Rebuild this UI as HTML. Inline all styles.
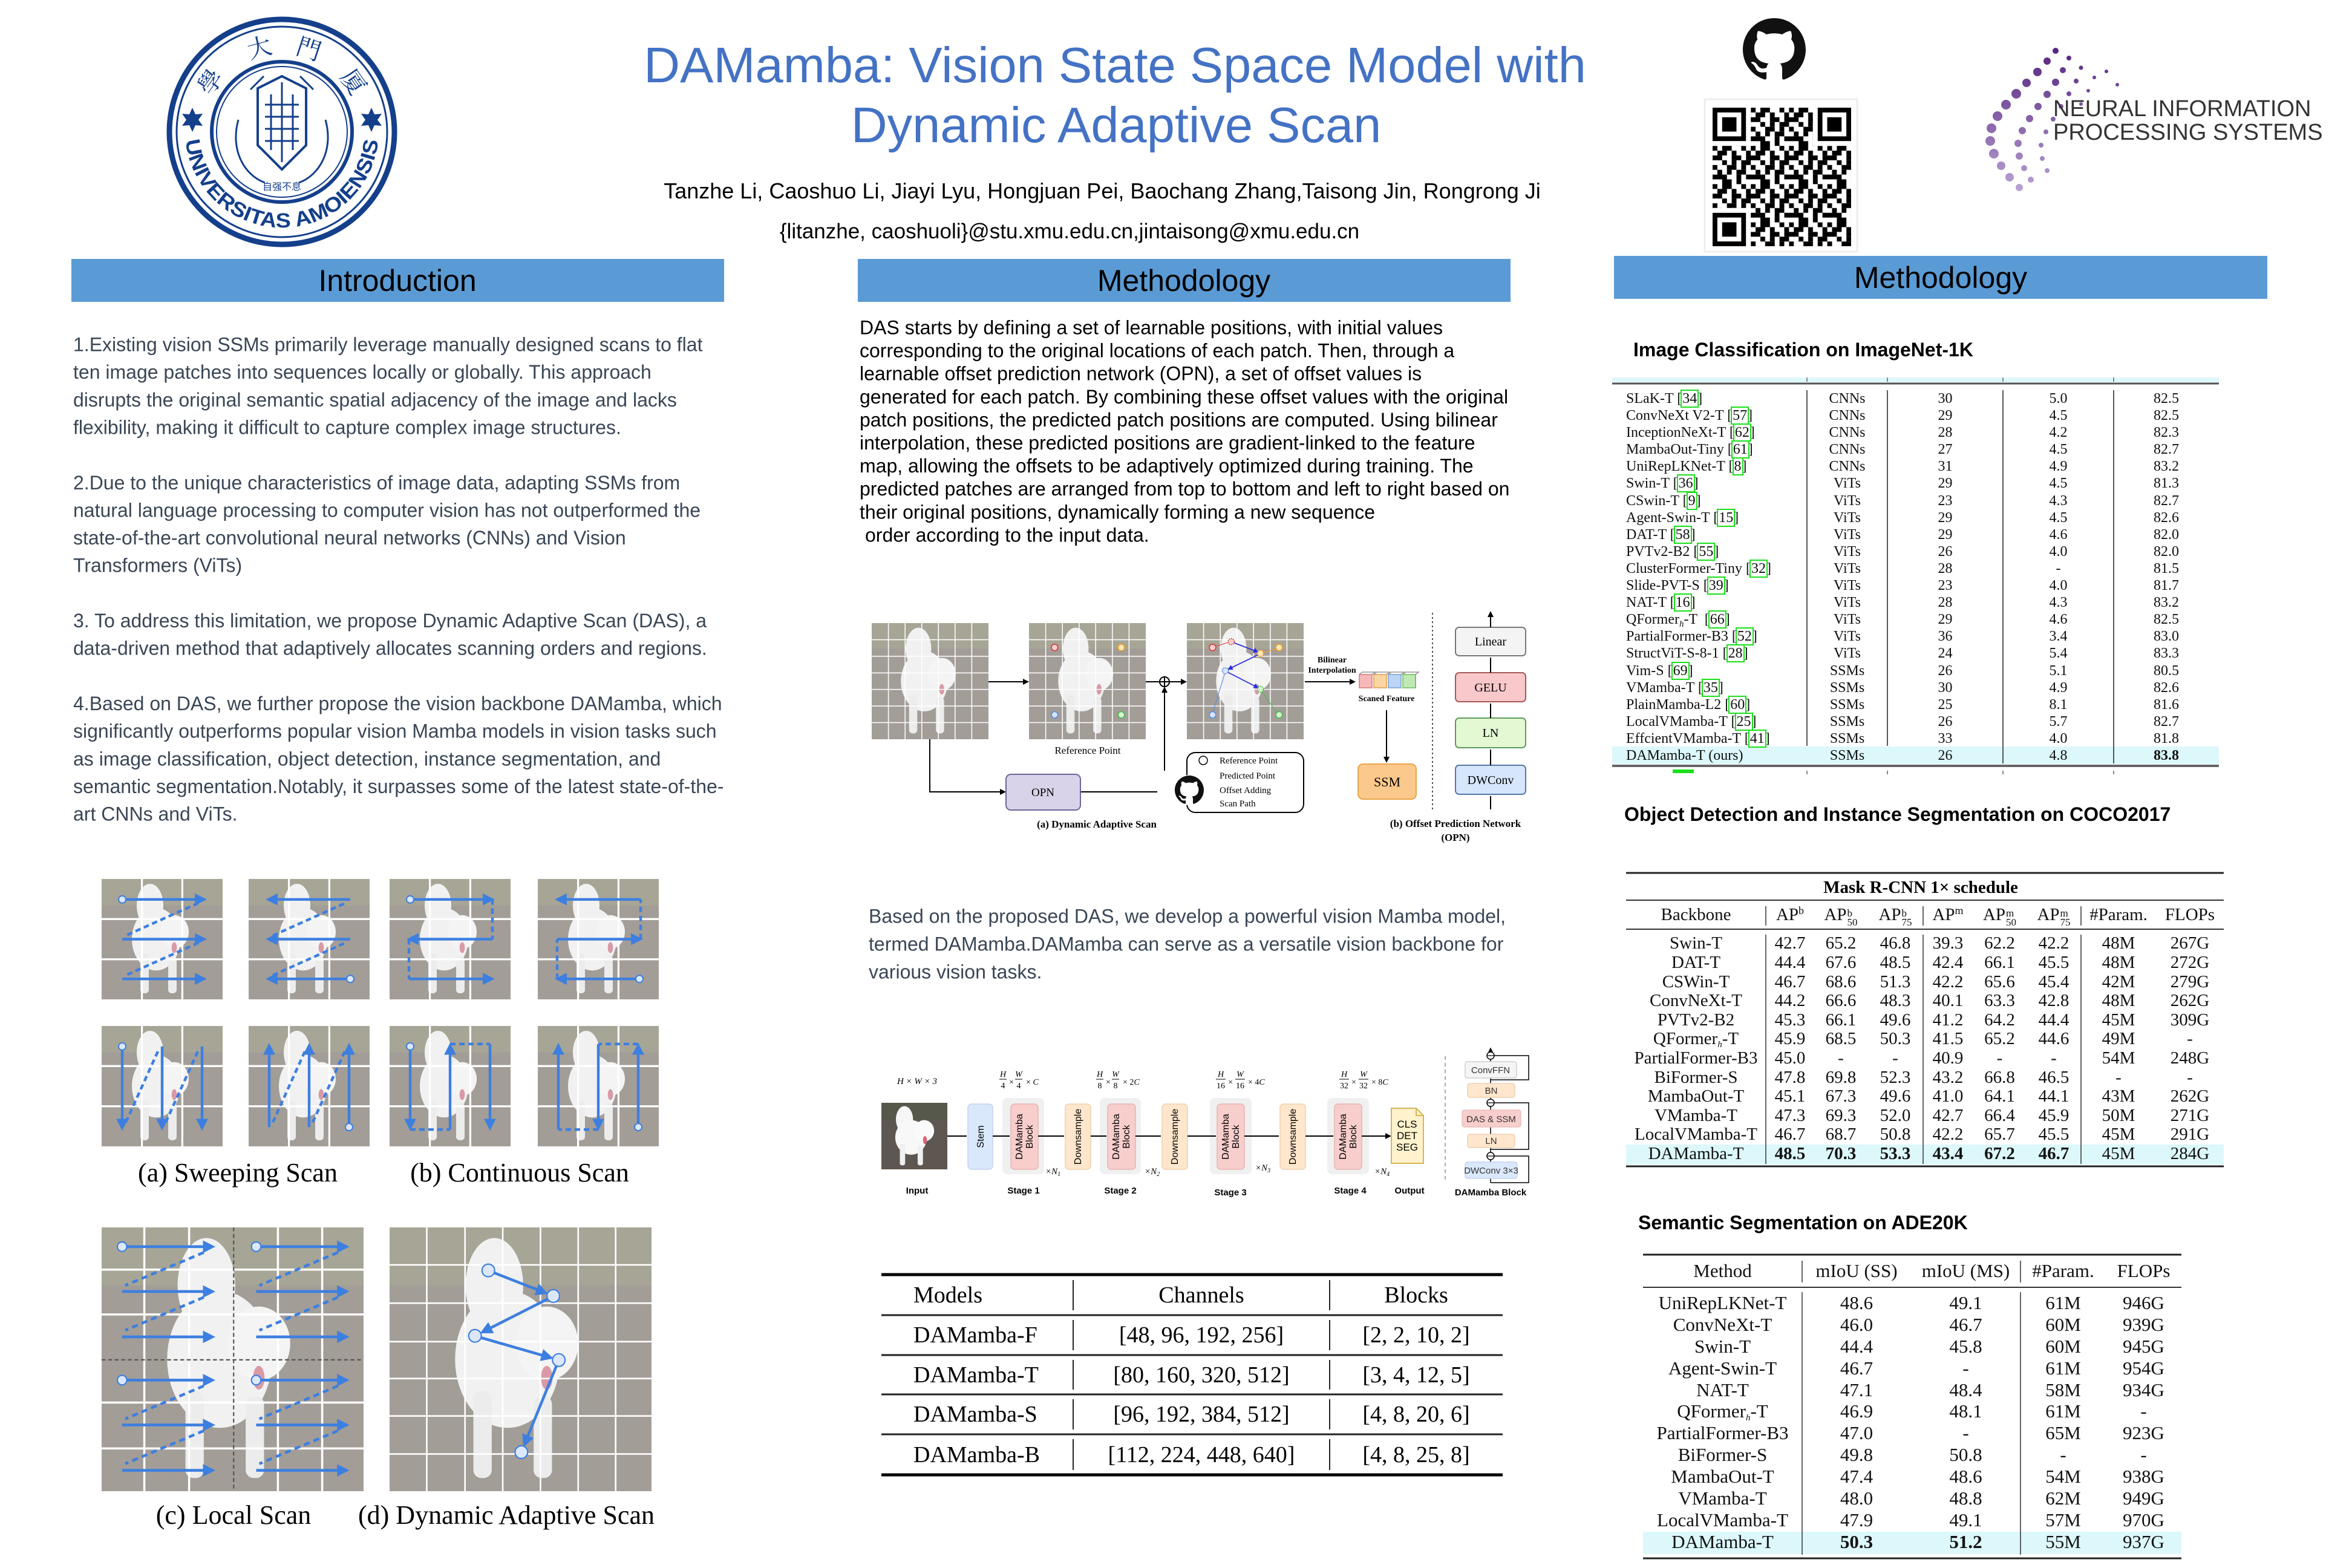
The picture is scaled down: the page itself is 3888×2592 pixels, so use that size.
<!DOCTYPE html>
<html><head><meta charset="utf-8"><title>DAMamba poster</title>
<style>
html,body{margin:0;padding:0;background:#fff}
body{width:3888px;height:2592px;position:relative;overflow:hidden}
.tb{position:absolute;font-family:"Liberation Serif","Times New Roman",serif;color:#111}
.r{display:flex;white-space:nowrap}
.r>div{flex:none;text-align:center}
.g{outline:2px solid #19e019;outline-offset:0px;padding:0 1px}
.sp{font-size:18px;vertical-align:10px;line-height:0}
.ss{display:inline-block;font-size:17px;line-height:15px;vertical-align:-9px;text-align:left;margin-left:1px}
.hs{font-style:italic;font-size:15px;vertical-align:-5px;line-height:0}
</style></head><body>
<svg width="3888" height="2592" viewBox="0 0 3888 2592" style="position:absolute;left:0;top:0" font-family="'Liberation Sans',Arial,sans-serif">
<defs>
<style>
.ar{fill:none;stroke:#3d7fe0;stroke-width:2.2;marker-end:url(#ah)}
.ds{fill:none;stroke:#3d7fe0;stroke-width:2.2;stroke-dasharray:4.5 3}
.st{fill:#dce8fa;stroke:#3d7fe0;stroke-width:1}
.ar2{fill:none;stroke:#3d7fe0;stroke-width:1.05;marker-end:url(#ah)}
.ds2{fill:none;stroke:#3d7fe0;stroke-width:1.05;stroke-dasharray:2.3 1.6}
.st2{fill:#dce8fa;stroke:#3d7fe0;stroke-width:0.5}
.sf{font-family:"Liberation Serif","Times New Roman",serif}
.k{stroke:#000;stroke-width:2;fill:none}
.ka{stroke:#000;stroke-width:2;fill:none;marker-end:url(#ak)}
.gw{stroke:#fff;fill:none}
</style>
<marker id="ah" viewBox="0 0 10 10" refX="7" refY="5" markerWidth="4.5" markerHeight="4.5" orient="auto"><path d="M0,0L10,5L0,10z" fill="#3d7fe0"/></marker>
<marker id="ak" viewBox="0 0 10 10" refX="8" refY="5" markerWidth="5" markerHeight="5" orient="auto"><path d="M0,0L10,5L0,10z" fill="#000"/></marker>
<marker id="ab" viewBox="0 0 10 10" refX="8" refY="5" markerWidth="5" markerHeight="5" orient="auto"><path d="M0,0L10,5L0,10z" fill="#2b2be0"/></marker>
<symbol id="dog" viewBox="0 0 100 100" preserveAspectRatio="none">
<rect width="100" height="100" fill="#a39d98"/>
<rect width="100" height="22" fill="#a7a596"/>
<ellipse cx="40" cy="22" rx="11" ry="18" fill="#f1f1f1"/>
<ellipse cx="45" cy="50" rx="20" ry="26" fill="#f1f1f1"/>
<ellipse cx="60" cy="44" rx="12" ry="14" fill="#f4f4f4"/>
<rect x="32" y="62" width="7" height="33" rx="3" fill="#ececec"/>
<rect x="55" y="64" width="7" height="31" rx="3" fill="#ececec"/>
<ellipse cx="60" cy="57" rx="2.2" ry="4.5" fill="#d99aa6"/>
</symbol>
<symbol id="dog2" viewBox="0 0 100 100" preserveAspectRatio="none">
<rect width="100" height="100" fill="#5e5650"/>
<rect width="100" height="25" fill="#55584a"/>
<ellipse cx="35" cy="25" rx="13" ry="20" fill="#f6f6f6"/>
<ellipse cx="45" cy="52" rx="24" ry="26" fill="#f8f8f8"/>
<ellipse cx="65" cy="42" rx="15" ry="16" fill="#fafafa"/>
<rect x="28" y="62" width="8" height="32" rx="3" fill="#f0f0f0"/>
<rect x="55" y="64" width="8" height="30" rx="3" fill="#f0f0f0"/>
<ellipse cx="66" cy="56" rx="3" ry="6" fill="#e0607a"/>
</symbol>
<symbol id="gh" viewBox="0 0 16 16"><path d="M8 0C3.58 0 0 3.58 0 8c0 3.54 2.29 6.53 5.47 7.59.4.07.55-.17.55-.38 0-.19-.01-.82-.01-1.49-2.01.37-2.53-.49-2.69-.94-.09-.23-.48-.94-.82-1.13-.28-.15-.68-.52-.01-.53.63-.01 1.08.58 1.23.82.72 1.21 1.87.87 2.33.66.07-.52.28-.87.51-1.07-1.78-.2-3.64-.89-3.64-3.95 0-.87.31-1.59.82-2.15-.08-.2-.36-1.02.08-2.12 0 0 .67-.21 2.2.82.64-.18 1.32-.27 2-.27.68 0 1.36.09 2 .27 1.53-1.04 2.2-.82 2.2-.82.44 1.1.16 1.92.08 2.12.51.56.82 1.27.82 2.15 0 3.07-1.87 3.75-3.65 3.95.29.25.54.73.54 1.48 0 1.07-.01 1.93-.01 2.2 0 .21.15.46.55.38A8.013 8.013 0 0016 8c0-4.42-3.58-8-8-8z" fill="#111"/></symbol>
<pattern id="qrp" x="2831" y="178" width="63.2" height="63.2" patternUnits="userSpaceOnUse">
<g fill="#000">
<rect x="0" y="0" width="7.9" height="7.9"/><rect x="15.8" y="0" width="15.8" height="7.9"/><rect x="47.4" y="0" width="7.9" height="7.9"/>
<rect x="7.9" y="7.9" width="15.8" height="7.9"/><rect x="31.6" y="7.9" width="7.9" height="7.9"/><rect x="55.3" y="7.9" width="7.9" height="7.9"/>
<rect x="0" y="15.8" width="15.8" height="7.9"/><rect x="31.6" y="15.8" width="15.8" height="7.9"/><rect x="55.3" y="15.8" width="7.9" height="7.9"/>
<rect x="15.8" y="23.7" width="7.9" height="7.9"/><rect x="31.6" y="23.7" width="7.9" height="7.9"/><rect x="47.4" y="23.7" width="15.8" height="7.9"/>
<rect x="0" y="31.6" width="7.9" height="7.9"/><rect x="23.7" y="31.6" width="15.8" height="7.9"/><rect x="47.4" y="31.6" width="7.9" height="7.9"/>
<rect x="7.9" y="39.5" width="7.9" height="7.9"/><rect x="23.7" y="39.5" width="7.9" height="7.9"/><rect x="39.5" y="39.5" width="15.8" height="7.9"/>
<rect x="0" y="47.4" width="23.7" height="7.9"/><rect x="39.5" y="47.4" width="7.9" height="7.9"/><rect x="55.3" y="47.4" width="7.9" height="7.9"/>
<rect x="15.8" y="55.3" width="15.8" height="7.9"/><rect x="39.5" y="55.3" width="7.9" height="7.9"/>
</g></pattern>
<linearGradient id="npg" x1="0" y1="80" x2="0" y2="315" gradientUnits="userSpaceOnUse"><stop offset="0" stop-color="#55247f"/><stop offset="1" stop-color="#b9a2d3"/></linearGradient>
<symbol id="fd" viewBox="0 0 7 7"><rect width="7" height="7" fill="#000"/><rect x="1" y="1" width="5" height="5" fill="#fff"/><rect x="2" y="2" width="3" height="3" fill="#000"/></symbol>
</defs>

<!-- ===== HEADER ===== -->
<g transform="translate(466,218)">
<circle r="186" fill="#fff" stroke="#143f8b" stroke-width="9"/>
<circle r="174" fill="none" stroke="#143f8b" stroke-width="3"/>
<circle r="116" fill="none" stroke="#143f8b" stroke-width="6"/>
<circle r="108" fill="none" stroke="#143f8b" stroke-width="2"/>
<path id="sealb" d="M-158.5,20 A160,160 0 0 0 158.5,20" fill="none"/>
<text font-size="34" font-weight="bold" fill="#143f8b"><textPath href="#sealb" startOffset="50%" text-anchor="middle" textLength="470" lengthAdjust="spacingAndGlyphs">UNIVERSITAS AMOIENSIS</textPath></text>
<g font-family="'Liberation Serif','Noto Serif CJK SC',serif" font-size="40" fill="#143f8b" text-anchor="middle">
<text transform="rotate(-55) translate(0,-130)">學</text>
<text transform="rotate(-15) translate(0,-130)">大</text>
<text transform="rotate(18) translate(0,-130)">門</text>
<text transform="rotate(55) translate(0,-130)">厦</text>
</g>
<path d="M-148,-40 l5,11 12,-1 -7,10 7,10 -12,-1 -5,11 -5,-11 -12,1 7,-10 -7,-10 12,1z" fill="#143f8b"/>
<path d="M148,-40 l5,11 12,-1 -7,10 7,10 -12,-1 -5,11 -5,-11 -12,1 7,-10 -7,-10 12,1z" fill="#143f8b"/>
<g fill="none" stroke="#143f8b" stroke-width="3">
<path d="M-40,-72 L0,-92 L40,-72 L40,22 L0,62 L-40,22Z" stroke-width="4"/>
<path d="M-28,-45 H28 M-28,-25 H28 M-28,-5 H28 M-28,15 H28 M-18,-62 V30 M18,-62 V30 M0,-82 V50"/>
<path d="M-72,-20 C-86,30 -62,72 -28,84 M72,-20 C86,30 62,72 28,84"/>
<path d="M-52,-70 L-30,-92 M52,-70 L30,-92"/>
</g>
<text y="96" font-size="16" text-anchor="middle" fill="#143f8b" font-family="'Liberation Sans','Noto Sans CJK SC',sans-serif">自强不息</text>
</g>

<text x="1843" y="136" font-size="83" fill="#4472c4" text-anchor="middle">DAMamba: Vision State Space Model with</text>
<text x="1845" y="235" font-size="83" fill="#4472c4" text-anchor="middle">Dynamic Adaptive Scan</text>
<text x="1822" y="328" font-size="36" fill="#000" text-anchor="middle">Tanzhe Li, Caoshuo Li, Jiayi Lyu, Hongjuan Pei, Baochang Zhang,Taisong Jin, Rongrong Ji</text>
<text x="1768" y="394" font-size="35" fill="#000" text-anchor="middle">{litanzhe, caoshuoli}@stu.xmu.edu.cn,jintaisong@xmu.edu.cn</text>

<use href="#gh" x="2881" y="30" width="104" height="104"/>
<rect x="2818" y="164" width="252" height="252" fill="#fff" stroke="#eee" stroke-width="3"/>
<rect x="2831" y="178" width="229" height="229" fill="url(#qrp)"/>
<rect x="2831" y="178" width="63.2" height="63.2" fill="#fff"/>
<rect x="2996.8" y="178" width="63.2" height="63.2" fill="#fff"/>
<rect x="2831" y="343.8" width="63.2" height="63.2" fill="#fff"/>
<use href="#fd" x="2831" y="178" width="55.3" height="55.3"/>
<use href="#fd" x="3004.7" y="178" width="55.3" height="55.3"/>
<use href="#fd" x="2831" y="351.7" width="55.3" height="55.3"/>

<g fill="url(#npg)">
<circle cx="3398" cy="84" r="5"/><circle cx="3384" cy="101" r="6"/><circle cx="3368" cy="119" r="7"/><circle cx="3350" cy="137" r="7"/><circle cx="3333" cy="155" r="8"/><circle cx="3316" cy="173" r="8"/><circle cx="3302" cy="192" r="8"/><circle cx="3292" cy="212" r="8"/><circle cx="3290" cy="233" r="8"/><circle cx="3296" cy="254" r="8"/><circle cx="3308" cy="274" r="7"/><circle cx="3322" cy="293" r="7"/><circle cx="3338" cy="310" r="6"/>
<circle cx="3420" cy="96" r="4"/><circle cx="3410" cy="116" r="5"/><circle cx="3398" cy="136" r="6"/><circle cx="3384" cy="156" r="6"/><circle cx="3369" cy="176" r="6"/><circle cx="3355" cy="196" r="6"/><circle cx="3343" cy="216" r="6"/><circle cx="3336" cy="237" r="6"/><circle cx="3338" cy="258" r="6"/><circle cx="3346" cy="278" r="5"/><circle cx="3357" cy="297" r="5"/>
<circle cx="3440" cy="112" r="3.5"/><circle cx="3432" cy="134" r="4"/><circle cx="3420" cy="155" r="4"/><circle cx="3407" cy="176" r="4"/><circle cx="3394" cy="197" r="4"/><circle cx="3382" cy="218" r="4"/><circle cx="3374" cy="240" r="4"/><circle cx="3376" cy="262" r="4"/><circle cx="3384" cy="282" r="4"/>
<circle cx="3462" cy="128" r="3"/><circle cx="3452" cy="150" r="3"/><circle cx="3440" cy="172" r="3"/><circle cx="3500" cy="140" r="3"/><circle cx="3482" cy="118" r="3"/>
</g>
<text x="3394" y="192" font-size="38" fill="#333">NEURAL INFORMATION</text>
<text x="3394" y="231" font-size="38" fill="#333">PROCESSING SYSTEMS</text>

<rect x="118" y="428" width="1079" height="71" fill="#5b9bd5"/>
<rect x="1418" y="428" width="1079" height="71" fill="#5b9bd5"/>
<rect x="2668" y="423" width="1080" height="71" fill="#5b9bd5"/>
<text x="657" y="481" font-size="50" text-anchor="middle" fill="#000">Introduction</text>
<text x="1957" y="481" font-size="50" text-anchor="middle" fill="#000">Methodology</text>
<text x="3208" y="476" font-size="50" text-anchor="middle" fill="#000">Methodology</text>

<g font-size="32" fill="#3a4656">
<text x="121" y="580.5">1.Existing vision SSMs primarily leverage manually designed scans to flat</text>
<text x="121" y="626.2">ten image patches into sequences locally or globally. This approach</text>
<text x="121" y="671.8">disrupts the original semantic spatial adjacency of the image and lacks</text>
<text x="121" y="717.5">flexibility, making it difficult to capture complex image structures.</text>
<text x="121" y="808.8">2.Due to the unique characteristics of image data, adapting SSMs from</text>
<text x="121" y="854.4">natural language processing to computer vision has not outperformed the</text>
<text x="121" y="900.1">state-of-the-art convolutional neural networks (CNNs) and Vision</text>
<text x="121" y="945.7">Transformers (ViTs)</text>
<text x="121" y="1037">3. To address this limitation, we propose Dynamic Adaptive Scan (DAS), a</text>
<text x="121" y="1082.7">data-driven method that adaptively allocates scanning orders and regions.</text>
<text x="121" y="1174">4.Based on DAS, we further propose the vision backbone DAMamba, which</text>
<text x="121" y="1219.6">significantly outperforms popular vision Mamba models in vision tasks such</text>
<text x="121" y="1265.3">as image classification, object detection, instance segmentation, and</text>
<text x="121" y="1310.9">semantic segmentation.Notably, it surpasses some of the latest state-of-the-</text>
<text x="121" y="1356.6">art CNNs and ViTs.</text>
</g>

<g transform="translate(168,1453) scale(2,1.99)">
<use href="#dog" width="100" height="100"/>
<path d="M33.3,0V100M66.7,0V100M0,33.3H100M0,66.7H100" class="gw" stroke-width="1.6"/>
<path class="ar" d="M17,17H84"/><path class="ar" d="M17,50H84"/><path class="ar" d="M17,83H84"/>
<path class="ds" d="M80,20L20,47"/><path class="ds" d="M80,53L20,80"/>
<circle class="st" cx="17" cy="17" r="3"/>
</g>
<g transform="translate(411,1453) scale(2,1.99)">
<use href="#dog" width="100" height="100"/>
<path d="M33.3,0V100M66.7,0V100M0,33.3H100M0,66.7H100" class="gw" stroke-width="1.6"/>
<path class="ar" d="M84,17H17"/><path class="ar" d="M84,50H17"/><path class="ar" d="M84,83H17"/>
<path class="ds" d="M20,80L80,53"/><path class="ds" d="M20,47L80,20"/>
<circle class="st" cx="84" cy="83" r="3"/>
</g>
<g transform="translate(644,1453) scale(2,1.99)">
<use href="#dog" width="100" height="100"/>
<path d="M33.3,0V100M66.7,0V100M0,33.3H100M0,66.7H100" class="gw" stroke-width="1.6"/>
<path class="ar" d="M17,17H84"/><path class="ds" d="M85,17V50"/><path class="ar" d="M85,50H17"/><path class="ds" d="M16,50V83"/><path class="ar" d="M16,83H84"/>
<circle class="st" cx="17" cy="17" r="3"/>
</g>
<g transform="translate(889,1453) scale(2,1.99)">
<use href="#dog" width="100" height="100"/>
<path d="M33.3,0V100M66.7,0V100M0,33.3H100M0,66.7H100" class="gw" stroke-width="1.6"/>
<path class="ar" d="M84,83H17"/><path class="ds" d="M16,83V50"/><path class="ar" d="M16,50H84"/><path class="ds" d="M85,50V17"/><path class="ar" d="M85,17H17"/>
<circle class="st" cx="84" cy="83" r="3"/>
</g>
<g transform="translate(168,1696) scale(2,1.99)">
<use href="#dog" width="100" height="100"/>
<path d="M33.3,0V100M66.7,0V100M0,33.3H100M0,66.7H100" class="gw" stroke-width="1.6"/>
<path class="ar" d="M17,17V84"/><path class="ar" d="M50,17V84"/><path class="ar" d="M83,17V84"/>
<path class="ds" d="M20,80L47,20"/><path class="ds" d="M53,80L80,20"/>
<circle class="st" cx="17" cy="17" r="3"/>
</g>
<g transform="translate(411,1696) scale(2,1.99)">
<use href="#dog" width="100" height="100"/>
<path d="M33.3,0V100M66.7,0V100M0,33.3H100M0,66.7H100" class="gw" stroke-width="1.6"/>
<path class="ar" d="M17,84V17"/><path class="ar" d="M50,84V17"/><path class="ar" d="M83,84V17"/>
<path class="ds" d="M20,80L47,20"/><path class="ds" d="M53,80L80,20"/>
<circle class="st" cx="83" cy="84" r="3"/>
</g>
<g transform="translate(644,1696) scale(2,1.99)">
<use href="#dog" width="100" height="100"/>
<path d="M33.3,0V100M66.7,0V100M0,33.3H100M0,66.7H100" class="gw" stroke-width="1.6"/>
<path class="ar" d="M17,17V84"/><path class="ds" d="M17,86H50"/><path class="ar" d="M50,86V17"/><path class="ds" d="M50,15H83"/><path class="ar" d="M83,15V84"/>
<circle class="st" cx="17" cy="17" r="3"/>
</g>
<g transform="translate(889,1696) scale(2,1.99)">
<use href="#dog" width="100" height="100"/>
<path d="M33.3,0V100M66.7,0V100M0,33.3H100M0,66.7H100" class="gw" stroke-width="1.6"/>
<path class="ar" d="M83,84V17"/><path class="ds" d="M83,15H50"/><path class="ar" d="M50,15V84"/><path class="ds" d="M50,86H17"/><path class="ar" d="M17,86V17"/>
<circle class="st" cx="83" cy="84" r="3"/>
</g>
<text x="393" y="1953" class="sf" font-size="44" text-anchor="middle">(a) Sweeping Scan</text>
<text x="859" y="1953" class="sf" font-size="44" text-anchor="middle">(b) Continuous Scan</text>

<g transform="translate(168,2029) scale(4.33,4.36)">
<use href="#dog" width="100" height="100"/>
<path d="M16.3,0V100M33.4,0V100M67.3,0V100M84.2,0V100M0,16H100M0,33H100M0,66.4H100M0,83.8H100" class="gw" stroke-width="0.8"/>
<path d="M50.4,0V100M0,50.2H100" stroke="#555" stroke-width="0.5" stroke-dasharray="1.5 1" fill="none"/>
<g id="lq">
<path class="ar2" d="M7.8,7.3H42"/><path class="ar2" d="M7.8,24.3H42"/><path class="ar2" d="M7.8,41.5H42"/>
<path class="ds2" d="M39,9.5L9,22"/><path class="ds2" d="M39,26.5L9,39"/>
<circle class="st2" cx="7.8" cy="7.3" r="1.8"/>
</g>
<use href="#lq" x="51.2"/>
<use href="#lq" y="50.6"/>
<use href="#lq" x="51.2" y="50.6"/>
</g>
<g transform="translate(644,2029) scale(4.33,4.36)">
<use href="#dog" width="100" height="100"/>
<path d="M14.2,0V100M28.8,0V100M43.2,0V100M57.6,0V100M72,0V100M86.3,0V100M0,14.2H100M0,28.7H100M0,43.3H100M0,57.3H100M0,71.5H100M0,85.9H100" class="gw" stroke-width="0.6"/>
<path class="ar2" d="M39.9,17.2L59.2,24.7"/>
<path class="ar2" d="M60.4,27.1L35.8,39.5"/>
<path class="ar2" d="M34.9,41.8L61.2,49.3"/>
<path class="ar2" d="M63.7,52.5L51.6,82"/>
<circle class="st2" cx="37.7" cy="16.3" r="2.4"/><circle class="st2" cx="62.5" cy="26" r="2.4"/><circle class="st2" cx="32.6" cy="41.1" r="2.4"/><circle class="st2" cx="64.6" cy="50.3" r="2.4"/><circle class="st2" cx="50.3" cy="85.2" r="2.4"/>
</g>
<text x="386" y="2519" class="sf" font-size="44" text-anchor="middle">(c) Local Scan</text>
<text x="837" y="2519" class="sf" font-size="44" text-anchor="middle">(d) Dynamic Adaptive Scan</text>

<g font-size="32" fill="#000">
<text x="1421" y="552.5">DAS starts by defining a set of learnable positions, with initial values</text>
<text x="1421" y="590.6">corresponding to the original locations of each patch. Then, through a</text>
<text x="1421" y="628.7">learnable offset prediction network (OPN), a set of offset values is</text>
<text x="1421" y="666.8">generated for each patch. By combining these offset values with the original</text>
<text x="1421" y="704.9">patch positions, the predicted patch positions are computed. Using bilinear</text>
<text x="1421" y="743">interpolation, these predicted positions are gradient-linked to the feature</text>
<text x="1421" y="781.1">map, allowing the offsets to be adaptively optimized during training. The</text>
<text x="1421" y="819.2">predicted patches are arranged from top to bottom and left to right based on</text>
<text x="1421" y="857.3">their original positions, dynamically forming a new sequence</text>
<text x="1430" y="895.4">order according to the input data.</text>
</g>

<g transform="translate(1441,1030) scale(1.93,1.92)">
<use href="#dog" width="100" height="100"/>
<path d="M14.3,0V100M28.6,0V100M42.9,0V100M57.1,0V100M71.4,0V100M85.7,0V100M0,14.3H100M0,28.6H100M0,42.9H100M0,57.1H100M0,71.4H100M0,85.7H100" class="gw" stroke-width="0.8"/>
</g>
<g transform="translate(1701,1030) scale(1.93,1.92)">
<use href="#dog" width="100" height="100"/>
<path d="M14.3,0V100M28.6,0V100M42.9,0V100M57.1,0V100M71.4,0V100M85.7,0V100M0,14.3H100M0,28.6H100M0,42.9H100M0,57.1H100M0,71.4H100M0,85.7H100" class="gw" stroke-width="0.8"/>
<g stroke-width="0.9">
<circle cx="22" cy="21" r="2.8" fill="#f6d0d0" stroke="#d84040"/>
<circle cx="79" cy="21" r="2.8" fill="#fde7bf" stroke="#eea020"/>
<circle cx="22" cy="79" r="2.8" fill="#d6e4fa" stroke="#5a8ee0"/>
<circle cx="79" cy="79" r="2.8" fill="#d7f3d0" stroke="#4cbb4c"/>
</g>
</g>
<g transform="translate(1962,1030) scale(1.93,1.92)">
<use href="#dog" width="100" height="100"/>
<path d="M14.3,0V100M28.6,0V100M42.9,0V100M57.1,0V100M71.4,0V100M85.7,0V100M0,14.3H100M0,28.6H100M0,42.9H100M0,57.1H100M0,71.4H100M0,85.7H100" class="gw" stroke-width="0.8"/>
<g stroke-width="0.6" fill="none">
<path d="M24.5,20L35,16.8" stroke="#d84040"/>
<path d="M76.5,22L65.5,25.5" stroke="#eea020"/>
<path d="M22.5,76L32.3,43.8" stroke="#5a8ee0"/>
<path d="M77,77L64.5,59.5" stroke="#4cbb4c"/>
</g>
<g stroke-width="0.9" fill="none" stroke="#2b2be0">
<path d="M40.5,17L60.6,24.8" marker-end="url(#ab)"/>
<path d="M60.8,27.4L35.5,39.7" marker-end="url(#ab)"/>
<path d="M35.4,42.5L60.8,55.6" marker-end="url(#ab)"/>
</g>
<g stroke-width="0.9">
<circle cx="22" cy="21" r="2.8" fill="#f6d0d0" stroke="#d84040"/>
<circle cx="79" cy="21" r="2.8" fill="#fde7bf" stroke="#eea020"/>
<circle cx="22" cy="79" r="2.8" fill="#d6e4fa" stroke="#5a8ee0"/>
<circle cx="79" cy="79" r="2.8" fill="#d7f3d0" stroke="#4cbb4c"/>
<circle cx="38" cy="16" r="2.6" fill="#f6d0d0" stroke="#d84040" stroke-dasharray="1 0.7"/>
<circle cx="63" cy="26" r="2.6" fill="#fde7bf" stroke="#eea020" stroke-dasharray="1 0.7"/>
<circle cx="33" cy="41" r="2.6" fill="#d6e4fa" stroke="#5a8ee0" stroke-dasharray="1 0.7"/>
<circle cx="63" cy="57" r="2.6" fill="#d7f3d0" stroke="#4cbb4c" stroke-dasharray="1 0.7"/>
</g>
</g>
<path class="ka" d="M1634,1127H1699"/>
<path class="k" d="M1894,1127H1917"/>
<circle cx="1925" cy="1127" r="8" fill="#fff" stroke="#000" stroke-width="2"/>
<path class="k" d="M1917,1127H1933M1925,1119V1135"/>
<path class="ka" d="M1933,1127H1960"/>
<path class="ka" d="M1925,1274V1137"/>
<path class="ka" d="M1537,1222V1309H1661"/>
<path class="k" d="M1786,1309H1913"/>
<rect x="1663" y="1280" width="123" height="59" rx="8" fill="#d9d3ea" stroke="#6e6497" stroke-width="2"/>
<text x="1724" y="1316" class="sf" font-size="19" text-anchor="middle">OPN</text>
<text x="1798" y="1246" class="sf" font-size="17" text-anchor="middle">Reference Point</text>
<rect x="1962" y="1244" width="193" height="99" rx="14" fill="#fff" stroke="#000" stroke-width="2"/>
<circle cx="1989" cy="1257" r="7" fill="#fff" stroke="#000" stroke-width="1.5"/>
<g class="sf" font-size="15">
<text x="2016" y="1262">Reference Point</text>
<text x="2016" y="1287">Predicted Point</text>
<text x="2016" y="1311">Offset Adding</text>
<text x="2016" y="1333">Scan Path</text>
</g>
<circle cx="1966" cy="1306" r="25" fill="#fff"/>
<use href="#gh" x="1942" y="1282" width="48" height="48"/>
<text x="1813" y="1368" class="sf" font-size="17" font-weight="bold" text-anchor="middle">(a) Dynamic Adaptive Scan</text>
<text x="2202" y="1095" class="sf" font-size="14" font-weight="bold" text-anchor="middle">Bilinear</text>
<text x="2202" y="1112" class="sf" font-size="14" font-weight="bold" text-anchor="middle">Interpolation</text>
<path class="ka" d="M2157,1127H2239"/>
<g stroke-width="1.5">
<rect x="2247" y="1115" width="21" height="22" fill="#f6b9b9" stroke="#d77"/>
<rect x="2271" y="1115" width="21" height="22" fill="#fbd6a0" stroke="#dca050"/>
<rect x="2295" y="1115" width="21" height="22" fill="#bcd5f6" stroke="#7a9ed0"/>
<rect x="2319" y="1115" width="21" height="22" fill="#bfe9b3" stroke="#6bbd60"/>
<path d="M2247,1115l5,-4h21l-5,4M2271,1115l5,-4h21l-5,4M2295,1115l5,-4h21l-5,4M2319,1115l5,-4h21l-5,4v22" fill="none" stroke="#999"/>
</g>
<text x="2292" y="1159" class="sf" font-size="14" font-weight="bold" text-anchor="middle">Scaned Feature</text>
<path class="ka" d="M2292,1174V1259"/>
<rect x="2245" y="1263" width="96" height="58" rx="8" fill="#fcc98c" stroke="#e9a54a" stroke-width="2"/>
<text x="2293" y="1300" class="sf" font-size="22" text-anchor="middle">SSM</text>
<path d="M2368,1013V1338" stroke="#555" stroke-width="2" stroke-dasharray="3 4"/>
<rect x="2406" y="1037" width="116" height="47" rx="6" fill="#f4f4f4" stroke="#777" stroke-width="2"/>
<rect x="2406" y="1112" width="116" height="48" rx="6" fill="#f8c8cb" stroke="#a65858" stroke-width="2"/>
<rect x="2406" y="1187" width="116" height="49" rx="6" fill="#e3f8d3" stroke="#5f9a5f" stroke-width="2"/>
<rect x="2406" y="1265" width="116" height="48" rx="6" fill="#d6e6fb" stroke="#5577aa" stroke-width="2"/>
<g class="sf" font-size="20" text-anchor="middle">
<text x="2464" y="1067">Linear</text><text x="2464" y="1143">GELU</text><text x="2464" y="1218">LN</text><text x="2464" y="1296">DWConv</text>
</g>
<path class="ka" d="M2464,1338V1316M2464,1265V1239M2464,1187V1163M2464,1112V1087M2464,1037V1012"/>
<text x="2406" y="1367" class="sf" font-size="17" font-weight="bold" text-anchor="middle">(b) Offset Prediction Network</text>
<text x="2406" y="1390" class="sf" font-size="17" font-weight="bold" text-anchor="middle">(OPN)</text>

<g font-size="32" fill="#3a4656">
<text x="1436" y="1525.5">Based on the proposed DAS, we develop a powerful vision Mamba model,</text>
<text x="1436" y="1571.5">termed DAMamba.DAMamba can serve as a versatile vision backbone for</text>
<text x="1436" y="1617.5">various vision tasks.</text>
</g>

<text x="1516" y="1792" class="sf" font-size="15" font-style="italic" text-anchor="middle">H × W × 3</text>
<use href="#dog2" x="1457" y="1823" width="109" height="110"/>
<g font-size="15" font-weight="bold" text-anchor="middle">
<text x="1516" y="1973">Input</text><text x="1692" y="1973">Stage 1</text><text x="1852" y="1973">Stage 2</text><text x="2034" y="1976">Stage 3</text><text x="2232" y="1973">Stage 4</text><text x="2330" y="1973">Output</text>
<text x="2464" y="1976">DAMamba Block</text>
</g>
<rect x="1600" y="1825" width="41" height="108" rx="6" fill="#dae8fc" stroke="#c3d3eb" stroke-width="1.5"/>
<rect x="1657" y="1815" width="69" height="126" rx="8" fill="#f0f0f0"/>
<rect x="1818" y="1815" width="68" height="126" rx="8" fill="#f0f0f0"/>
<rect x="2000" y="1815" width="69" height="126" rx="8" fill="#f0f0f0"/>
<rect x="2194" y="1815" width="69" height="126" rx="8" fill="#f0f0f0"/>
<g fill="#f8cecc" stroke="#e8b3b1" stroke-width="1.5">
<rect x="1671" y="1825" width="45" height="108" rx="6"/><rect x="1831" y="1825" width="46" height="108" rx="6"/><rect x="2012" y="1825" width="45" height="108" rx="6"/><rect x="2206" y="1825" width="45" height="108" rx="6"/>
</g>
<g fill="#ffe6cc" stroke="#edd0b0" stroke-width="1.5">
<rect x="1761" y="1825" width="42" height="108" rx="6"/><rect x="1921" y="1825" width="42" height="108" rx="6"/><rect x="2116" y="1825" width="42" height="108" rx="6"/>
</g>
<g font-size="16" text-anchor="middle">
<text transform="translate(1626,1879) rotate(-90)">Stem</text>
<text transform="translate(1690,1879) rotate(-90)">DAMamba</text><text transform="translate(1707,1879) rotate(-90)">Block</text>
<text transform="translate(1850,1879) rotate(-90)">DAMamba</text><text transform="translate(1867,1879) rotate(-90)">Block</text>
<text transform="translate(2031,1879) rotate(-90)">DAMamba</text><text transform="translate(2048,1879) rotate(-90)">Block</text>
<text transform="translate(2225,1879) rotate(-90)">DAMamba</text><text transform="translate(2242,1879) rotate(-90)">Block</text>
<text transform="translate(1787,1879) rotate(-90)">Downsample</text>
<text transform="translate(1947,1879) rotate(-90)">Downsample</text>
<text transform="translate(2142,1879) rotate(-90)">Downsample</text>
</g>
<path class="ka" d="M1566,1878H1598M1641,1878H1669M1716,1878H1759M1803,1878H1829M1877,1878H1919M1963,1878H2010M2057,1878H2114M2158,1878H2204M2251,1878H2298"/>
<path d="M2300,1832H2341L2353,1844V1923H2300Z" fill="#fff2cc" stroke="#d6b656" stroke-width="2"/>
<path d="M2341,1832V1844H2353" fill="none" stroke="#d6b656" stroke-width="2"/>
<g font-size="17" text-anchor="middle"><text x="2326" y="1864">CLS</text><text x="2326" y="1883">DET</text><text x="2326" y="1902">SEG</text></g>
<g class="sf" font-size="15" font-style="italic">
<text x="1728" y="1941">×N<tspan font-size="10" dy="3">1</tspan></text>
<text x="1892" y="1941">×N<tspan font-size="10" dy="3">2</tspan></text>
<text x="2075" y="1935">×N<tspan font-size="10" dy="3">3</tspan></text>
<text x="2272" y="1941">×N<tspan font-size="10" dy="3">4</tspan></text>
</g>
<g class="sf" font-size="14" text-anchor="middle">
<g transform="translate(1652,0)">
<text x="6" y="1780" font-style="italic">H</text><path d="M0,1784H12" stroke="#000"/><text x="6" y="1799">4</text>
<text x="20" y="1793">×</text>
<text x="32" y="1780" font-style="italic">W</text><path d="M26,1784H38" stroke="#000"/><text x="32" y="1799">4</text>
<text x="44" y="1793" text-anchor="start">× <tspan font-style="italic">C</tspan></text>
</g>
<g transform="translate(1812,0)">
<text x="6" y="1780" font-style="italic">H</text><path d="M0,1784H12" stroke="#000"/><text x="6" y="1799">8</text>
<text x="20" y="1793">×</text>
<text x="32" y="1780" font-style="italic">W</text><path d="M26,1784H38" stroke="#000"/><text x="32" y="1799">8</text>
<text x="44" y="1793" text-anchor="start">× 2<tspan font-style="italic">C</tspan></text>
</g>
<g transform="translate(2010,0)">
<text x="8" y="1780" font-style="italic">H</text><path d="M0,1784H16" stroke="#000"/><text x="8" y="1799">16</text>
<text x="24" y="1793">×</text>
<text x="40" y="1780" font-style="italic">W</text><path d="M32,1784H48" stroke="#000"/><text x="40" y="1799">16</text>
<text x="53" y="1793" text-anchor="start">× 4<tspan font-style="italic">C</tspan></text>
</g>
<g transform="translate(2214,0)">
<text x="8" y="1780" font-style="italic">H</text><path d="M0,1784H16" stroke="#000"/><text x="8" y="1799">32</text>
<text x="24" y="1793">×</text>
<text x="40" y="1780" font-style="italic">W</text><path d="M32,1784H48" stroke="#000"/><text x="40" y="1799">32</text>
<text x="53" y="1793" text-anchor="start">× 8<tspan font-style="italic">C</tspan></text>
</g>
</g>
<path d="M2389,1746V1955" stroke="#aaa" stroke-width="2" stroke-dasharray="6 5"/>
<path d="M2464,1955V1733" stroke="#000" stroke-width="1.5" marker-end="url(#ak)"/>
<path d="M2470,1745H2527V1785H2464M2470,1823H2527V1900H2464M2470,1911H2527V1955H2464" fill="none" stroke="#000" stroke-width="1.5"/>
<rect x="2422" y="1755" width="85" height="27" rx="4" fill="#f5f5f5" stroke="#cfcfcf" stroke-width="1.5"/>
<rect x="2426" y="1791" width="78" height="23" rx="4" fill="#ffe6cc" stroke="#ead2b6" stroke-width="1.5"/>
<rect x="2417" y="1835" width="97" height="28" rx="4" fill="#f8cecc" stroke="#e8c0be" stroke-width="1.5"/>
<rect x="2426" y="1875" width="78" height="22" rx="4" fill="#ffe6cc" stroke="#ead2b6" stroke-width="1.5"/>
<rect x="2422" y="1921" width="86" height="27" rx="4" fill="#dae8fc" stroke="#c3d3eb" stroke-width="1.5"/>
<g fill="#fff" stroke="#000" stroke-width="1.5"><circle cx="2464" cy="1745" r="6"/><circle cx="2464" cy="1823" r="6"/><circle cx="2464" cy="1911" r="6"/></g>
<path d="M2458,1745H2470M2458,1823H2470M2458,1911H2470" stroke="#000" stroke-width="1.2"/>
<g font-size="15" text-anchor="middle" fill="#333">
<text x="2464" y="1774">ConvFFN</text><text x="2465" y="1808">BN</text><text x="2465" y="1855">DAS &amp; SSM</text><text x="2465" y="1891">LN</text><text x="2465" y="1940">DWConv 3×3</text>
</g>

<path d="M1457,2107H2484M1457,2438H2484" stroke="#000" stroke-width="5"/>
<path d="M1457,2174H2484M1457,2240H2484M1457,2305H2484M1457,2371H2484" stroke="#222" stroke-width="3"/>
<path d="M1774,2116V2166M2198,2116V2166M1774,2182V2232M2198,2182V2232M1774,2248V2297M2198,2248V2297M1774,2313V2363M2198,2313V2363M1774,2379V2430M2198,2379V2430" stroke="#222" stroke-width="2"/>
<g class="sf" font-size="38">
<text x="1510" y="2153">Models</text><text x="1986" y="2153" text-anchor="middle">Channels</text><text x="2341" y="2153" text-anchor="middle">Blocks</text>
<text x="1510" y="2219">DAMamba-F</text><text x="1986" y="2219" text-anchor="middle">[48, 96, 192, 256]</text><text x="2341" y="2219" text-anchor="middle">[2, 2, 10, 2]</text>
<text x="1510" y="2285">DAMamba-T</text><text x="1986" y="2285" text-anchor="middle">[80, 160, 320, 512]</text><text x="2341" y="2285" text-anchor="middle">[3, 4, 12, 5]</text>
<text x="1510" y="2350">DAMamba-S</text><text x="1986" y="2350" text-anchor="middle">[96, 192, 384, 512]</text><text x="2341" y="2350" text-anchor="middle">[4, 8, 20, 6]</text>
<text x="1510" y="2417">DAMamba-B</text><text x="1986" y="2417" text-anchor="middle">[112, 224, 448, 640]</text><text x="2341" y="2417" text-anchor="middle">[4, 8, 25, 8]</text>
</g>

<text x="2700" y="589" font-size="32" font-weight="bold">Image Classification on ImageNet-1K</text>
<rect x="2665" y="624" width="1003" height="8" fill="#def8fb"/>
<path d="M2987,624V631M3120,624V631M3311,624V631M3494,624V631" stroke="#888" stroke-width="2"/>
<path d="M2665,634H3668" stroke="#555" stroke-width="3"/>
<rect x="2665" y="1234" width="1003" height="29" fill="#dcf8fb"/>
<path d="M2665,1266H3668" stroke="#666" stroke-width="4"/>
<path d="M2987,645V1233M3120,645V1233M3311,645V1262M3494,645V1262" stroke="#222" stroke-width="1.5"/>
<path d="M2987,1274V1280M3120,1274V1280M3311,1274V1280M3494,1274V1280" stroke="#888" stroke-width="2"/>
<rect x="2765" y="1272" width="35" height="6" fill="#19e019"/>

<text x="2685" y="1357" font-size="32" font-weight="bold">Object Detection and Instance Segmentation on COCO2017</text>
<path d="M2688,1443H3676M2688,1928H3676" stroke="#222" stroke-width="3"/>
<path d="M2688,1488H3676M2688,1536H3676" stroke="#333" stroke-width="2"/>
<rect x="2688" y="1892" width="988" height="33" fill="#dcf8fb"/>
<path d="M2919,1498V1530M3179,1498V1530M3440,1498V1530M2919,1545V1924M3179,1545V1924M3440,1545V1924" stroke="#333" stroke-width="1.5"/>
<text x="3175" y="1476" class="sf" font-size="29" font-weight="bold" text-anchor="middle">Mask R-CNN 1× schedule</text>

<text x="2708" y="2032" font-size="32" font-weight="bold">Semantic Segmentation on ADE20K</text>
<path d="M2716,2074H3606M2716,2576H3606" stroke="#222" stroke-width="3"/>
<path d="M2716,2128H3606" stroke="#333" stroke-width="2"/>
<rect x="2716" y="2532" width="890" height="37" fill="#dcf8fb"/>
<path d="M2979,2084V2120M3340,2084V2120M2979,2136V2570M3340,2136V2570" stroke="#333" stroke-width="1.5"/>
</svg>

<div class="tb" style="left:2665px;top:645px;width:1003px;font-size:24px;line-height:28.1px">
<div class="r" style="height:28.1px"><div style="width:322px;text-align:left;padding-left:23px;box-sizing:border-box">SLaK-T [<span class="g">34</span>]</div><div style="width:133px">CNNs</div><div style="width:191px">30</div><div style="width:183px">5.0</div><div style="width:174px">82.5</div></div>
<div class="r" style="height:28.1px"><div style="width:322px;text-align:left;padding-left:23px;box-sizing:border-box">ConvNeXt V2-T [<span class="g">57</span>]</div><div style="width:133px">CNNs</div><div style="width:191px">29</div><div style="width:183px">4.5</div><div style="width:174px">82.5</div></div>
<div class="r" style="height:28.1px"><div style="width:322px;text-align:left;padding-left:23px;box-sizing:border-box">InceptionNeXt-T [<span class="g">62</span>]</div><div style="width:133px">CNNs</div><div style="width:191px">28</div><div style="width:183px">4.2</div><div style="width:174px">82.3</div></div>
<div class="r" style="height:28.1px"><div style="width:322px;text-align:left;padding-left:23px;box-sizing:border-box">MambaOut-Tiny [<span class="g">61</span>]</div><div style="width:133px">CNNs</div><div style="width:191px">27</div><div style="width:183px">4.5</div><div style="width:174px">82.7</div></div>
<div class="r" style="height:28.1px"><div style="width:322px;text-align:left;padding-left:23px;box-sizing:border-box">UniRepLKNet-T [<span class="g">8</span>]</div><div style="width:133px">CNNs</div><div style="width:191px">31</div><div style="width:183px">4.9</div><div style="width:174px">83.2</div></div>
<div class="r" style="height:28.1px"><div style="width:322px;text-align:left;padding-left:23px;box-sizing:border-box">Swin-T [<span class="g">36</span>]</div><div style="width:133px">ViTs</div><div style="width:191px">29</div><div style="width:183px">4.5</div><div style="width:174px">81.3</div></div>
<div class="r" style="height:28.1px"><div style="width:322px;text-align:left;padding-left:23px;box-sizing:border-box">CSwin-T [<span class="g">9</span>]</div><div style="width:133px">ViTs</div><div style="width:191px">23</div><div style="width:183px">4.3</div><div style="width:174px">82.7</div></div>
<div class="r" style="height:28.1px"><div style="width:322px;text-align:left;padding-left:23px;box-sizing:border-box">Agent-Swin-T [<span class="g">15</span>]</div><div style="width:133px">ViTs</div><div style="width:191px">29</div><div style="width:183px">4.5</div><div style="width:174px">82.6</div></div>
<div class="r" style="height:28.1px"><div style="width:322px;text-align:left;padding-left:23px;box-sizing:border-box">DAT-T [<span class="g">58</span>]</div><div style="width:133px">ViTs</div><div style="width:191px">29</div><div style="width:183px">4.6</div><div style="width:174px">82.0</div></div>
<div class="r" style="height:28.1px"><div style="width:322px;text-align:left;padding-left:23px;box-sizing:border-box">PVTv2-B2 [<span class="g">55</span>]</div><div style="width:133px">ViTs</div><div style="width:191px">26</div><div style="width:183px">4.0</div><div style="width:174px">82.0</div></div>
<div class="r" style="height:28.1px"><div style="width:322px;text-align:left;padding-left:23px;box-sizing:border-box">ClusterFormer-Tiny [<span class="g">32</span>]</div><div style="width:133px">ViTs</div><div style="width:191px">28</div><div style="width:183px">-</div><div style="width:174px">81.5</div></div>
<div class="r" style="height:28.1px"><div style="width:322px;text-align:left;padding-left:23px;box-sizing:border-box">Slide-PVT-S [<span class="g">39</span>]</div><div style="width:133px">ViTs</div><div style="width:191px">23</div><div style="width:183px">4.0</div><div style="width:174px">81.7</div></div>
<div class="r" style="height:28.1px"><div style="width:322px;text-align:left;padding-left:23px;box-sizing:border-box">NAT-T [<span class="g">16</span>]</div><div style="width:133px">ViTs</div><div style="width:191px">28</div><div style="width:183px">4.3</div><div style="width:174px">83.2</div></div>
<div class="r" style="height:28.1px"><div style="width:322px;text-align:left;padding-left:23px;box-sizing:border-box">QFormer<span class="hs">h</span>-T &nbsp;[<span class="g">66</span>]</div><div style="width:133px">ViTs</div><div style="width:191px">29</div><div style="width:183px">4.6</div><div style="width:174px">82.5</div></div>
<div class="r" style="height:28.1px"><div style="width:322px;text-align:left;padding-left:23px;box-sizing:border-box">PartialFormer-B3 [<span class="g">52</span>]</div><div style="width:133px">ViTs</div><div style="width:191px">36</div><div style="width:183px">3.4</div><div style="width:174px">83.0</div></div>
<div class="r" style="height:28.1px"><div style="width:322px;text-align:left;padding-left:23px;box-sizing:border-box">StructViT-S-8-1 [<span class="g">28</span>]</div><div style="width:133px">ViTs</div><div style="width:191px">24</div><div style="width:183px">5.4</div><div style="width:174px">83.3</div></div>
<div class="r" style="height:28.1px"><div style="width:322px;text-align:left;padding-left:23px;box-sizing:border-box">Vim-S [<span class="g">69</span>]</div><div style="width:133px">SSMs</div><div style="width:191px">26</div><div style="width:183px">5.1</div><div style="width:174px">80.5</div></div>
<div class="r" style="height:28.1px"><div style="width:322px;text-align:left;padding-left:23px;box-sizing:border-box">VMamba-T [<span class="g">35</span>]</div><div style="width:133px">SSMs</div><div style="width:191px">30</div><div style="width:183px">4.9</div><div style="width:174px">82.6</div></div>
<div class="r" style="height:28.1px"><div style="width:322px;text-align:left;padding-left:23px;box-sizing:border-box">PlainMamba-L2 [<span class="g">60</span>]</div><div style="width:133px">SSMs</div><div style="width:191px">25</div><div style="width:183px">8.1</div><div style="width:174px">81.6</div></div>
<div class="r" style="height:28.1px"><div style="width:322px;text-align:left;padding-left:23px;box-sizing:border-box">LocalVMamba-T [<span class="g">25</span>]</div><div style="width:133px">SSMs</div><div style="width:191px">26</div><div style="width:183px">5.7</div><div style="width:174px">82.7</div></div>
<div class="r" style="height:28.1px"><div style="width:322px;text-align:left;padding-left:23px;box-sizing:border-box">EffcientVMamba-T [<span class="g">41</span>]</div><div style="width:133px">SSMs</div><div style="width:191px">33</div><div style="width:183px">4.0</div><div style="width:174px">81.8</div></div>
<div class="r" style="height:28.1px"><div style="width:322px;text-align:left;padding-left:23px;box-sizing:border-box">DAMamba-T (ours)</div><div style="width:133px">SSMs</div><div style="width:191px">26</div><div style="width:183px">4.8</div><div style="width:174px"><b>83.8</b></div></div>
</div>

<div class="tb" style="left:2688px;top:1497px;width:988px;font-size:29px;line-height:31px">
<div class="r" style="height:31px"><div style="width:231px">Backbone</div><div style="width:80px">AP<span class="sp">b</span></div><div style="width:88px">AP<span class="ss">b<br>50</span></div><div style="width:92px">AP<span class="ss">b<br>75</span></div><div style="width:82px">AP<span class="sp">m</span></div><div style="width:89px">AP<span class="ss">m<br>50</span></div><div style="width:90px">AP<span class="ss">m<br>75</span></div><div style="width:124px">#Param.</div><div style="width:112px">FLOPs</div></div>
</div>
<div class="tb" style="left:2688px;top:1544.4px;width:988px;font-size:29px;line-height:31.6px">
<div class="r" style="height:31.6px"><div style="width:231px">Swin-T</div><div style="width:80px">42.7</div><div style="width:88px">65.2</div><div style="width:92px">46.8</div><div style="width:82px">39.3</div><div style="width:89px">62.2</div><div style="width:90px">42.2</div><div style="width:124px">48M</div><div style="width:112px">267G</div></div>
<div class="r" style="height:31.6px"><div style="width:231px">DAT-T</div><div style="width:80px">44.4</div><div style="width:88px">67.6</div><div style="width:92px">48.5</div><div style="width:82px">42.4</div><div style="width:89px">66.1</div><div style="width:90px">45.5</div><div style="width:124px">48M</div><div style="width:112px">272G</div></div>
<div class="r" style="height:31.6px"><div style="width:231px">CSWin-T</div><div style="width:80px">46.7</div><div style="width:88px">68.6</div><div style="width:92px">51.3</div><div style="width:82px">42.2</div><div style="width:89px">65.6</div><div style="width:90px">45.4</div><div style="width:124px">42M</div><div style="width:112px">279G</div></div>
<div class="r" style="height:31.6px"><div style="width:231px">ConvNeXt-T</div><div style="width:80px">44.2</div><div style="width:88px">66.6</div><div style="width:92px">48.3</div><div style="width:82px">40.1</div><div style="width:89px">63.3</div><div style="width:90px">42.8</div><div style="width:124px">48M</div><div style="width:112px">262G</div></div>
<div class="r" style="height:31.6px"><div style="width:231px">PVTv2-B2</div><div style="width:80px">45.3</div><div style="width:88px">66.1</div><div style="width:92px">49.6</div><div style="width:82px">41.2</div><div style="width:89px">64.2</div><div style="width:90px">44.4</div><div style="width:124px">45M</div><div style="width:112px">309G</div></div>
<div class="r" style="height:31.6px"><div style="width:231px">QFormer<span class="hs">h</span>-T</div><div style="width:80px">45.9</div><div style="width:88px">68.5</div><div style="width:92px">50.3</div><div style="width:82px">41.5</div><div style="width:89px">65.2</div><div style="width:90px">44.6</div><div style="width:124px">49M</div><div style="width:112px">-</div></div>
<div class="r" style="height:31.6px"><div style="width:231px">PartialFormer-B3</div><div style="width:80px">45.0</div><div style="width:88px">-</div><div style="width:92px">-</div><div style="width:82px">40.9</div><div style="width:89px">-</div><div style="width:90px">-</div><div style="width:124px">54M</div><div style="width:112px">248G</div></div>
<div class="r" style="height:31.6px"><div style="width:231px">BiFormer-S</div><div style="width:80px">47.8</div><div style="width:88px">69.8</div><div style="width:92px">52.3</div><div style="width:82px">43.2</div><div style="width:89px">66.8</div><div style="width:90px">46.5</div><div style="width:124px">-</div><div style="width:112px">-</div></div>
<div class="r" style="height:31.6px"><div style="width:231px">MambaOut-T</div><div style="width:80px">45.1</div><div style="width:88px">67.3</div><div style="width:92px">49.6</div><div style="width:82px">41.0</div><div style="width:89px">64.1</div><div style="width:90px">44.1</div><div style="width:124px">43M</div><div style="width:112px">262G</div></div>
<div class="r" style="height:31.6px"><div style="width:231px">VMamba-T</div><div style="width:80px">47.3</div><div style="width:88px">69.3</div><div style="width:92px">52.0</div><div style="width:82px">42.7</div><div style="width:89px">66.4</div><div style="width:90px">45.9</div><div style="width:124px">50M</div><div style="width:112px">271G</div></div>
<div class="r" style="height:31.6px"><div style="width:231px">LocalVMamba-T</div><div style="width:80px">46.7</div><div style="width:88px">68.7</div><div style="width:92px">50.8</div><div style="width:82px">42.2</div><div style="width:89px">65.7</div><div style="width:90px">45.5</div><div style="width:124px">45M</div><div style="width:112px">291G</div></div>
<div class="r" style="height:31.6px;font-weight:bold"><div style="width:231px;font-weight:normal">DAMamba-T</div><div style="width:80px">48.5</div><div style="width:88px">70.3</div><div style="width:92px">53.3</div><div style="width:82px">43.4</div><div style="width:89px">67.2</div><div style="width:90px">46.7</div><div style="width:124px;font-weight:normal">45M</div><div style="width:112px;font-weight:normal">284G</div></div>
</div>

<div class="tb" style="left:2716px;top:2083px;width:890px;font-size:31px;line-height:36px">
<div class="r" style="height:36px"><div style="width:263px">Method</div><div style="width:180px">mIoU (SS)</div><div style="width:181px">mIoU (MS)</div><div style="width:141px">#Param.</div><div style="width:125px">FLOPs</div></div>
</div>
<div class="tb" style="left:2716px;top:2136px;width:890px;font-size:31px;line-height:35.9px">
<div class="r" style="height:35.9px"><div style="width:263px">UniRepLKNet-T</div><div style="width:180px">48.6</div><div style="width:181px">49.1</div><div style="width:141px">61M</div><div style="width:125px">946G</div></div>
<div class="r" style="height:35.9px"><div style="width:263px">ConvNeXt-T</div><div style="width:180px">46.0</div><div style="width:181px">46.7</div><div style="width:141px">60M</div><div style="width:125px">939G</div></div>
<div class="r" style="height:35.9px"><div style="width:263px">Swin-T</div><div style="width:180px">44.4</div><div style="width:181px">45.8</div><div style="width:141px">60M</div><div style="width:125px">945G</div></div>
<div class="r" style="height:35.9px"><div style="width:263px">Agent-Swin-T</div><div style="width:180px">46.7</div><div style="width:181px">-</div><div style="width:141px">61M</div><div style="width:125px">954G</div></div>
<div class="r" style="height:35.9px"><div style="width:263px">NAT-T</div><div style="width:180px">47.1</div><div style="width:181px">48.4</div><div style="width:141px">58M</div><div style="width:125px">934G</div></div>
<div class="r" style="height:35.9px"><div style="width:263px">QFormer<span class="hs">h</span>-T</div><div style="width:180px">46.9</div><div style="width:181px">48.1</div><div style="width:141px">61M</div><div style="width:125px">-</div></div>
<div class="r" style="height:35.9px"><div style="width:263px">PartialFormer-B3</div><div style="width:180px">47.0</div><div style="width:181px">-</div><div style="width:141px">65M</div><div style="width:125px">923G</div></div>
<div class="r" style="height:35.9px"><div style="width:263px">BiFormer-S</div><div style="width:180px">49.8</div><div style="width:181px">50.8</div><div style="width:141px">-</div><div style="width:125px">-</div></div>
<div class="r" style="height:35.9px"><div style="width:263px">MambaOut-T</div><div style="width:180px">47.4</div><div style="width:181px">48.6</div><div style="width:141px">54M</div><div style="width:125px">938G</div></div>
<div class="r" style="height:35.9px"><div style="width:263px">VMamba-T</div><div style="width:180px">48.0</div><div style="width:181px">48.8</div><div style="width:141px">62M</div><div style="width:125px">949G</div></div>
<div class="r" style="height:35.9px"><div style="width:263px">LocalVMamba-T</div><div style="width:180px">47.9</div><div style="width:181px">49.1</div><div style="width:141px">57M</div><div style="width:125px">970G</div></div>
<div class="r" style="height:35.9px"><div style="width:263px">DAMamba-T</div><div style="width:180px"><b>50.3</b></div><div style="width:181px"><b>51.2</b></div><div style="width:141px">55M</div><div style="width:125px">937G</div></div>
</div>
</body></html>
